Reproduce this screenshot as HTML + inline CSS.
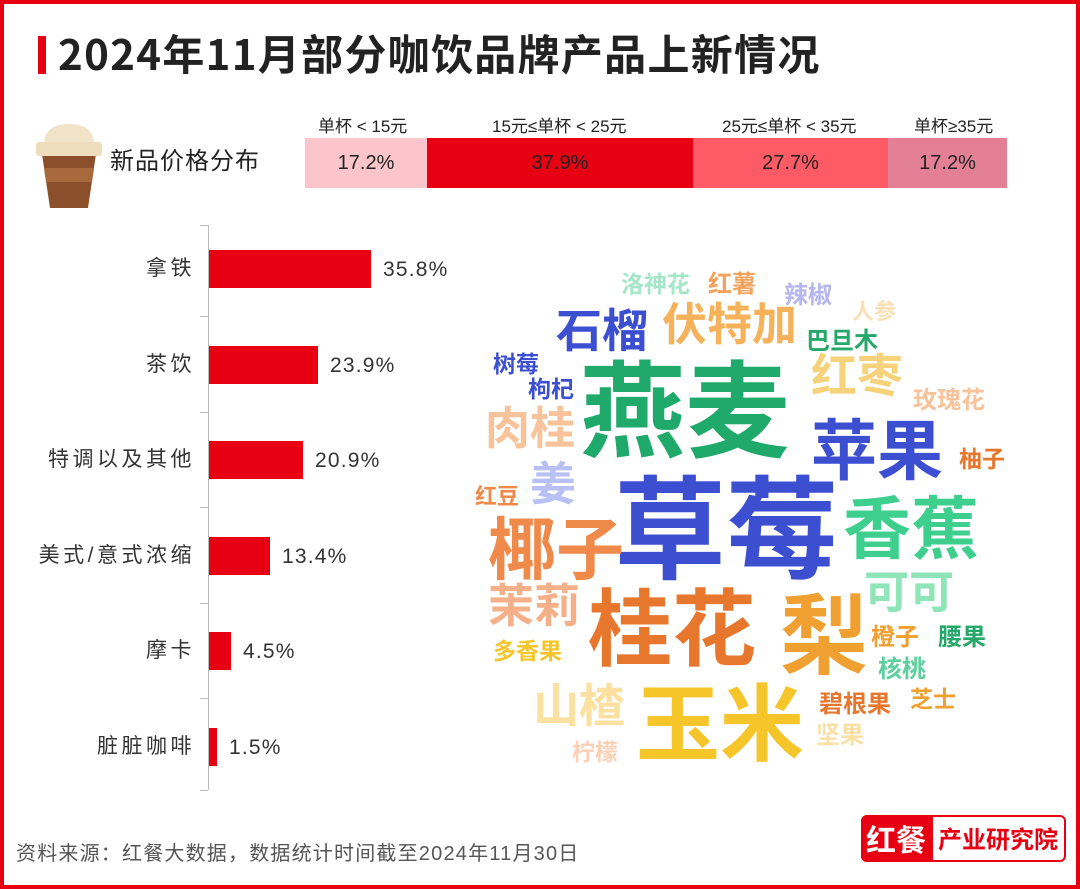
<!DOCTYPE html>
<html><head><meta charset="utf-8">
<style>
*{margin:0;padding:0;box-sizing:border-box}
body{width:1080px;height:889px;overflow:hidden;background:#fff;font-family:"Liberation Sans","Noto Sans CJK SC",sans-serif;position:relative}
.frame{position:absolute;left:0;top:0;width:1080px;height:889px;border:4px solid #e60012}
.a{position:absolute;white-space:nowrap;line-height:1}
.w{position:absolute;white-space:nowrap;line-height:1;font-weight:bold;font-family:"Noto Sans CJK SC",sans-serif}
.lab{position:absolute;right:885px;font-size:21px;letter-spacing:3.5px;color:#333;text-align:right;line-height:1}
.bar{position:absolute;left:209px;height:38px;background:#e60012}
.val{position:absolute;font-size:21px;letter-spacing:1.2px;color:#333;line-height:1}
</style></head><body>
<div class="frame"></div>
<div class="a" style="left:38px;top:36px;width:8px;height:38px;background:#e60012"></div>
<div class="a" style="left:58px;top:32px;font-size:42px;letter-spacing:1.3px;font-weight:bold;color:#222;font-family:'Noto Sans CJK SC',sans-serif">2024年11月部分咖饮品牌产品上新情况</div>

<!-- cup -->
<svg class="a" style="left:30px;top:120px" width="80" height="90">
<path d="M12 34 L66 34 L58 88 L20 88 Z" fill="#8b4f2c"/>
<path d="M14 48 L64 48 L62 62 L16 62 Z" fill="#a86a3c"/>
<rect x="6" y="22" width="66" height="14" rx="3" fill="#eedcbc"/>
<path d="M14 22 Q16 4 39 4 Q62 4 64 22 Z" fill="#f1e3c8"/>
</svg>
<div class="a" style="left:110px;top:150px;font-size:24px;letter-spacing:1px;color:#222">新品价格分布</div>

<div class="a" style="left:318px;top:118px;font-size:17px;color:#222">单杯 &lt; 15元</div>
<div class="a" style="left:492px;top:118px;font-size:17px;color:#222">15元≤单杯 &lt; 25元</div>
<div class="a" style="left:722px;top:118px;font-size:17px;color:#222">25元≤单杯 &lt; 35元</div>
<div class="a" style="left:914px;top:118px;font-size:17px;color:#222">单杯≥35元</div>
<div class="a" style="left:305px;top:138px;width:122px;height:50px;background:#fcc5cb"></div>
<div class="a" style="left:427px;top:138px;width:266px;height:50px;background:#e60012"></div>
<div class="a" style="left:693px;top:138px;width:195px;height:50px;background:#ff5b66"></div>
<div class="a" style="left:888px;top:138px;width:119px;height:50px;background:#e48096"></div>
<div class="a" style="left:305px;top:153px;width:122px;text-align:center;font-size:20px;color:#222">17.2%</div>
<div class="a" style="left:427px;top:153px;width:266px;text-align:center;font-size:20px;color:#222">37.9%</div>
<div class="a" style="left:693px;top:153px;width:195px;text-align:center;font-size:20px;color:#222">27.7%</div>
<div class="a" style="left:888px;top:153px;width:119px;text-align:center;font-size:20px;color:#222">17.2%</div>

<!-- bar chart -->
<div class="a" style="left:208px;top:225px;width:1px;height:565px;background:#bbb"></div>
<div class="a" style="left:200px;top:316px;width:8px;height:1px;background:#bbb"></div>
<div class="a" style="left:200px;top:412px;width:8px;height:1px;background:#bbb"></div>
<div class="a" style="left:200px;top:507px;width:8px;height:1px;background:#bbb"></div>
<div class="a" style="left:200px;top:603px;width:8px;height:1px;background:#bbb"></div>
<div class="a" style="left:200px;top:698px;width:8px;height:1px;background:#bbb"></div>
<div class="a" style="left:200px;top:225px;width:8px;height:1px;background:#bbb"></div>
<div class="a" style="left:200px;top:790px;width:8px;height:1px;background:#bbb"></div>

<div class="lab" style="top:258px">拿铁</div>
<div class="bar" style="top:250px;width:162px"></div><div class="val" style="left:383px;top:259px">35.8%</div>
<div class="lab" style="top:354px">茶饮</div>
<div class="bar" style="top:346px;width:109px"></div><div class="val" style="left:330px;top:355px">23.9%</div>
<div class="lab" style="top:449px">特调以及其他</div>
<div class="bar" style="top:441px;width:94px"></div><div class="val" style="left:315px;top:450px">20.9%</div>
<div class="lab" style="top:545px">美式/意式浓缩</div>
<div class="bar" style="top:537px;width:61px"></div><div class="val" style="left:282px;top:546px">13.4%</div>
<div class="lab" style="top:640px">摩卡</div>
<div class="bar" style="top:632px;width:22px"></div><div class="val" style="left:243px;top:641px">4.5%</div>
<div class="lab" style="top:736px">脏脏咖啡</div>
<div class="bar" style="top:728px;width:8px"></div><div class="val" style="left:229px;top:737px">1.5%</div>

<!-- word cloud -->
<div class="w" style="left:580px;top:352px;font-size:105px;color:#1fa96a">燕麦</div>
<div class="w" style="left:614px;top:466px;font-size:112px;color:#3c4fd0">草莓</div>
<div class="w" style="left:588px;top:582px;font-size:84px;color:#e8772e">桂花</div>
<div class="w" style="left:780px;top:586px;font-size:88px;color:#f0a030">梨</div>
<div class="w" style="left:636px;top:677px;font-size:84px;color:#f5c52a">玉米</div>
<div class="w" style="left:843px;top:490px;font-size:68px;color:#3ecf8e">香蕉</div>
<div class="w" style="left:488px;top:511px;font-size:68px;color:#ef8a4a">椰子</div>
<div class="w" style="left:811px;top:413px;font-size:66px;color:#3c4fd0">苹果</div>
<div class="w" style="left:556px;top:305px;font-size:46px;color:#3c4fd0">石榴</div>
<div class="w" style="left:662px;top:298px;font-size:45px;color:#f5b25a">伏特加</div>
<div class="w" style="left:811px;top:350px;font-size:46px;color:#f6d27a">红枣</div>
<div class="w" style="left:485px;top:402px;font-size:45px;color:#f8c39a">肉桂</div>
<div class="w" style="left:530px;top:458px;font-size:46px;color:#b9c0f4">姜</div>
<div class="w" style="left:864px;top:566px;font-size:45px;color:#8fe5b8">可可</div>
<div class="w" style="left:488px;top:580px;font-size:46px;color:#f5b08a">茉莉</div>
<div class="w" style="left:533px;top:680px;font-size:46px;color:#fbe0a0">山楂</div>
<div class="w" style="left:621px;top:271px;font-size:23px;color:#a5e6c8">洛神花</div>
<div class="w" style="left:708px;top:270px;font-size:24px;color:#f2a25a">红薯</div>
<div class="w" style="left:784px;top:281px;font-size:24px;color:#b5b5f0">辣椒</div>
<div class="w" style="left:852px;top:299px;font-size:22px;color:#fbe0b5">人参</div>
<div class="w" style="left:806px;top:327px;font-size:24px;color:#25a86a">巴旦木</div>
<div class="w" style="left:493px;top:351px;font-size:23px;color:#3c4fd0">树莓</div>
<div class="w" style="left:528px;top:376px;font-size:23px;color:#3c4fd0">枸杞</div>
<div class="w" style="left:913px;top:386px;font-size:24px;color:#f8c39a">玫瑰花</div>
<div class="w" style="left:959px;top:446px;font-size:23px;color:#e8772e">柚子</div>
<div class="w" style="left:475px;top:484px;font-size:22px;color:#ef8a4a">红豆</div>
<div class="w" style="left:493px;top:638px;font-size:23px;color:#f5c52a">多香果</div>
<div class="w" style="left:871px;top:623px;font-size:24px;color:#f0a030">橙子</div>
<div class="w" style="left:938px;top:623px;font-size:24px;color:#25a86a">腰果</div>
<div class="w" style="left:878px;top:655px;font-size:24px;color:#5ecf9e">核桃</div>
<div class="w" style="left:910px;top:686px;font-size:23px;color:#f0a030">芝士</div>
<div class="w" style="left:819px;top:690px;font-size:24px;color:#e8772e">碧根果</div>
<div class="w" style="left:816px;top:721px;font-size:24px;color:#fbe0a5">坚果</div>
<div class="w" style="left:572px;top:739px;font-size:23px;color:#fbd0b5">柠檬</div>

<!-- footer -->
<div class="a" style="left:16px;top:844px;font-size:20px;letter-spacing:1.2px;color:#555">资料来源：红餐大数据，数据统计时间截至2024年11月30日</div>
<div class="a" style="left:861px;top:815px;width:205px;height:47px;border:2px solid #e60012;border-radius:6px;background:#fff"></div>
<div class="a" style="left:861px;top:815px;width:72px;height:47px;background:#e60012;border-radius:6px 0 0 6px"></div>
<div class="a" style="left:866px;top:823px;font-size:30px;font-weight:bold;color:#fff;font-family:'Noto Sans CJK SC',sans-serif">红餐</div>
<div class="a" style="left:938px;top:826px;font-size:24px;font-weight:bold;color:#e60012;font-family:'Noto Sans CJK SC',sans-serif">产业研究院</div>
</body></html>
